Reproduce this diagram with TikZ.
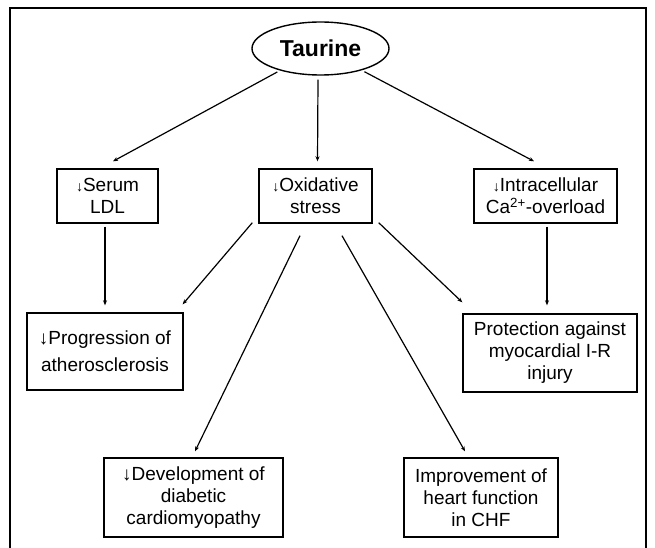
\documentclass[tikz,border=0pt]{standalone}
\usepackage{fontspec}
\setmainfont{Liberation Sans}
\usetikzlibrary{shapes.geometric,arrows.meta,calc}
\newcommand\dnbig{↓}
\newcommand\dnsmall{{\fontsize{14}{14}\selectfont ↓}}
\begin{document}
\begin{tikzpicture}[x=1pt,y=-1pt,
  box/.style={draw,line width=1.4pt,align=center,inner sep=2pt,font=\fontsize{19}{22}\selectfont},
  conn/.style={line width=1.2pt,-{Stealth[length=5pt,width=4pt]}},
  frame/.style={line width=1.5pt}]
\useasboundingbox (0,0) rectangle (655,548);
\fill[white] (0,0) rectangle (655,548);
\draw[frame] (10,548) -- (10,8) -- (646,8) -- (646,548);

\node[draw,ellipse,line width=1.4pt,minimum width=137,minimum height=53,inner sep=0pt,
      font=\bfseries\fontsize{23}{23}\selectfont] (taur) at (320.5,48.5) {Taurine};

\node[box,minimum width=101,minimum height=54] (serum) at (107.5,196) {\dnsmall Serum\\LDL};
\node[box,minimum width=113,minimum height=54] (ox) at (315.5,196) {\dnsmall Oxidative\\stress};
\node[box,minimum width=143,minimum height=54] (intra) at (545.5,196) {\dnsmall Intracellular\\Ca\textsuperscript{2+}-overload};

\node[box,minimum width=156,minimum height=77,font=\fontsize{19}{27}\selectfont] (prog) at (105,351.5) {\dnbig Progression of\\atherosclerosis};
\node[box,minimum width=174,minimum height=78] (prot) at (550,353) {Protection against\\myocardial I-R\\injury};
\node[box,minimum width=179,minimum height=79] (dev) at (193.5,497.5) {\dnbig Development of\\diabetic\\cardiomyopathy};
\node[box,minimum width=154,minimum height=79] (imp) at (481,497.5) {Improvement of\\heart function\\in CHF};

\draw[conn,shorten <=3pt] (taur) -- ($(serum.north)+(5.5,-7)$);
\draw[conn] ($(taur.south)+(-2.5,4)$) -- ($(ox.north)+(2,-7)$);
\draw[conn,shorten <=3pt] (taur) -- ($(intra.north)+(-11.5,-7)$);

\draw[conn] ($(serum.south)+(-2.5,3)$) -- ($(prog.north)+(0,-7)$);
\draw[conn] ($(ox.south west)+(-6,-1)$) -- ($(prog.north east)+(-1,-8)$);
\draw[conn] ($(ox.south)+(-15.5,12)$) -- ($(dev.north)+(1.5,-6)$);
\draw[conn] ($(ox.south)+(26.5,12)$) -- ($(imp.north)+(-16,-6)$);
\draw[conn] ($(ox.south east)+(6,-1)$) -- ($(prot.north west)+(0,-11)$);
\draw[conn] ($(intra.south)+(1.5,3)$) -- ($(prot.north)+(-3,-8)$);
\end{tikzpicture}
\end{document}
